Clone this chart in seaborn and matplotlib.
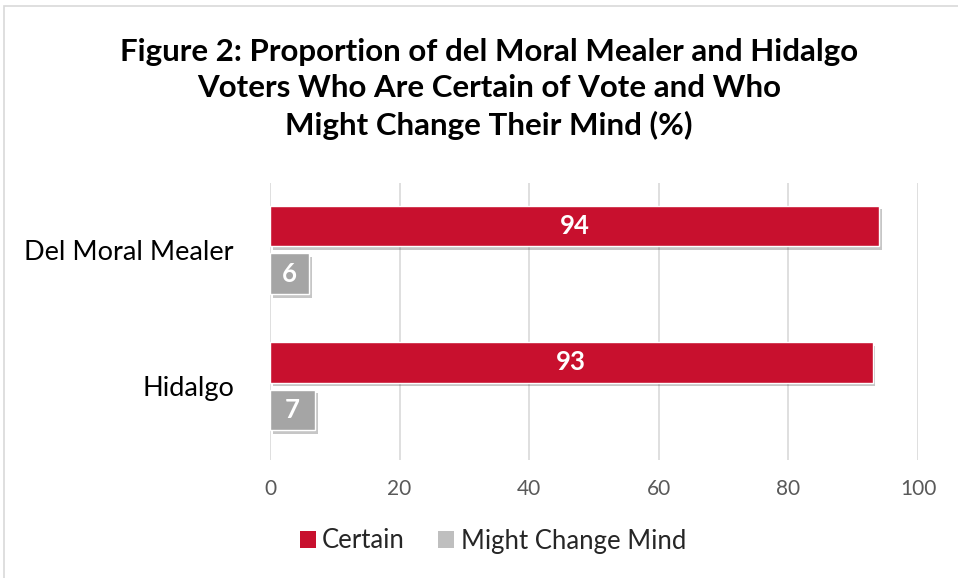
import matplotlib
matplotlib.use("Agg")
import matplotlib.pyplot as plt
import matplotlib.patheffects as pe
from matplotlib.patches import Rectangle, Patch
import seaborn as sns
import pandas as pd

categories = ["Del Moral Mealer", "Hidalgo"]
series_names = ["Certain", "Might Change Mind"]
certain = [94, 93]
might_change = [6, 7]
x_ticks = [0, 20, 40, 60, 80, 100]

RED = "#C8102E"
GRAY = "#A5A5A5"
GRAY_LEG = "#BFBFBF"

rows = []
for c, a, b in zip(categories, certain, might_change):
    rows.append({"cat": c, "series": series_names[0], "val": a})
    rows.append({"cat": c, "series": series_names[1], "val": b})
df = pd.DataFrame(rows)

sns.set_theme(style="white")
plt.rcParams["font.family"] = ["Lato", "DejaVu Sans"]

fig = plt.figure(figsize=(9.58, 5.78), dpi=100)
fig.patches.append(Rectangle((4/958, -0.05), 1.2, 1 - 6/578 + 0.05, transform=fig.transFigure,
                             fill=False, edgecolor="#D9D9D9", linewidth=1.2))
ax = fig.add_axes([270/958, 1 - 460/578, 648/958, 277/578])

sns.barplot(data=df, y="cat", x="val", hue="series", orient="h",
            palette={series_names[0]: RED, series_names[1]: GRAY},
            width=0.7, gap=0.15, legend=False, ax=ax, saturation=1)

for p in ax.patches:
    p.set_path_effects([pe.SimplePatchShadow(offset=(2, -2.5), alpha=0.3, shadow_rgbFace="#444444"), pe.Normal()])

for cont in ax.containers:
    ax.bar_label(cont, label_type="center", color="white", fontsize=18.5, fontweight="bold")

ax.set_xlim(0, 100)
ax.set_ylim(1.54, -0.49)
ax.set_xticks(x_ticks)
ax.set_xticklabels([str(t) for t in x_ticks], fontsize=15, color="#595959")
ax.tick_params(axis="x", length=0, pad=14)
ax.tick_params(axis="y", length=0, pad=26, labelsize=19.5, labelcolor="#000000")
ax.set_xlabel("")
ax.set_ylabel("")
ax.xaxis.grid(True, color="#D9D9D9", linewidth=1.2)
ax.set_axisbelow(True)
for s in ax.spines.values():
    s.set_visible(False)

fig.text(489/958, 1 - 89/578,
         "Figure 2: Proportion of del Moral Mealer and Hidalgo\nVoters Who Are Certain of Vote and Who\nMight Change Their Mind (%)",
         ha="center", va="center", fontsize=22.5, fontweight="bold", color="#000000", linespacing=1.38)

handles = [Patch(facecolor=RED, edgecolor="none"), Patch(facecolor=GRAY_LEG, edgecolor="none")]
fig.legend(handles, series_names, loc="center", bbox_to_anchor=(493/958, 1 - 541/578), ncol=2,
           frameon=False, fontsize=18.5, handlelength=0.62, handleheight=0.62, handletextpad=0.25,
           columnspacing=1.3)

fig.savefig("out.png", dpi=100)
